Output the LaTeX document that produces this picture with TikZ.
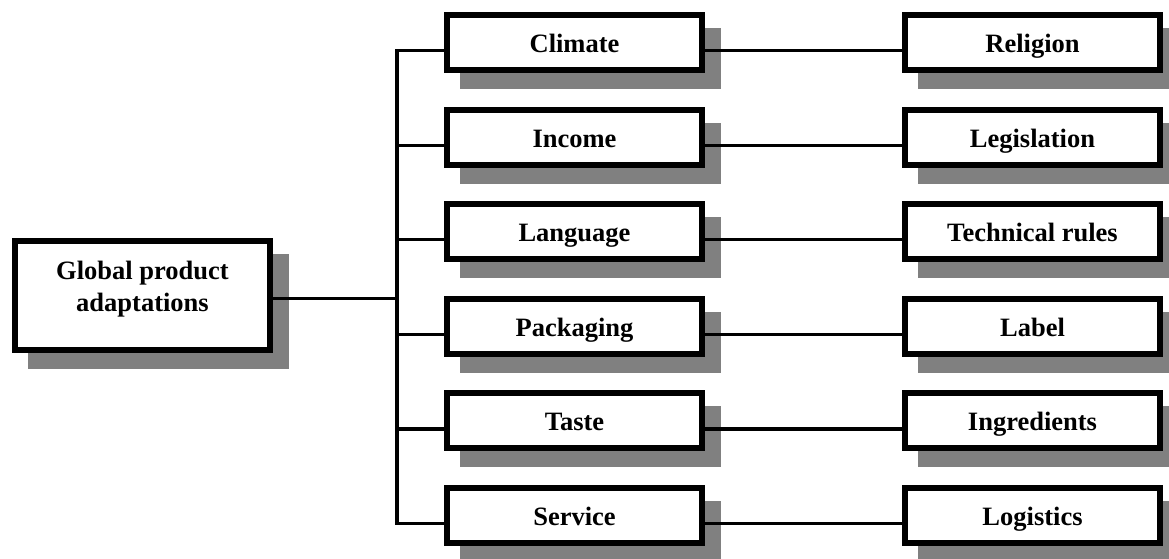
\documentclass[tikz,border=0pt]{standalone}
\usepackage{fontspec}
\setmainfont{Liberation Serif}
\usetikzlibrary{backgrounds}
\definecolor{shadowgray}{RGB}{128,128,128}
\begin{document}
\begin{tikzpicture}[x=1pt,y=-1pt,
  box/.style={draw=black, fill=white, line width=6pt, rectangle,
    minimum width=255pt, minimum height=55pt, inner sep=0pt,
    text height=20pt, text depth=0pt,
    align=center, font=\fontsize{26.5}{32}\selectfont\bfseries},
  bigbox/.style={box, minimum height=109pt, text height=32pt, text depth=0pt},
  conn/.style={line width=3.2pt, line cap=rect}]
\useasboundingbox (0,0) rectangle (1169,559);

% root
\node[bigbox] (g) at (142.5,295.5) {Global product\\adaptations};

% first column
\node[box] (c1) at (574.5,42.5)  {Climate};
\node[box] (c2) at (574.5,137.1) {Income};
\node[box] (c3) at (574.5,231.7) {Language};
\node[box] (c4) at (574.5,326.3) {Packaging};
\node[box] (c5) at (574.5,420.9) {Taste};
\node[box] (c6) at (574.5,515.5) {Service};

% second column
\node[box] (r1) at (1032.5,42.5)  {Religion};
\node[box] (r2) at (1032.5,137.1) {Legislation};
\node[box] (r3) at (1032.5,231.7) {Technical rules};
\node[box] (r4) at (1032.5,326.3) {Label};
\node[box] (r5) at (1032.5,420.9) {Ingredients};
\node[box] (r6) at (1032.5,515.5) {Logistics};

% drop shadows behind every box
\begin{scope}[on background layer]
  \foreach \n in {g,c1,c2,c3,c4,c5,c6,r1,r2,r3,r4,r5,r6}
    \fill[shadowgray] ([xshift=16pt,yshift=-16pt]\n.north west)
      rectangle ([xshift=16pt,yshift=-16pt]\n.south east);
\end{scope}

% trunk
\coordinate (trunk) at (397,0);
\coordinate (gout) at ([yshift=-3pt]g.east);
\foreach \i in {1,...,6}
  \coordinate (cw\i) at ([yshift=-8pt]c\i.west);
\draw[conn] (gout) -- (gout -| trunk);
\draw[conn] (cw1 -| trunk) -- (cw6 -| trunk);

% branches and pairings
\foreach \i in {1,...,6}{
  \draw[conn] (cw\i -| trunk) -- (cw\i);
  \draw[conn] ([yshift=-8pt]c\i.east) -- ([yshift=-8pt]c\i.east -| r\i.west);
}
\end{tikzpicture}
\end{document}
